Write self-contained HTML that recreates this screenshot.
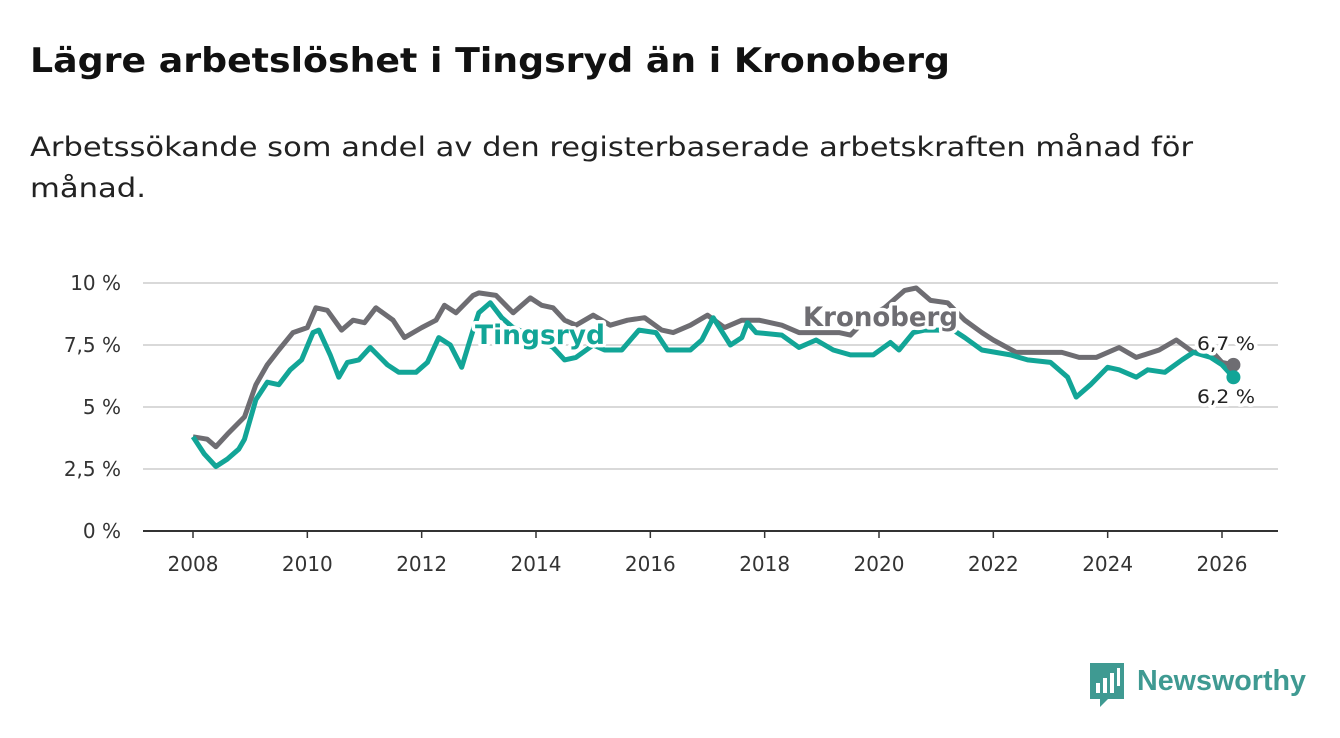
<!DOCTYPE html>
<html><head><meta charset="utf-8"><style>
html,body{margin:0;padding:0;background:#fff;}
body{width:1340px;height:734px;overflow:hidden;font-family:"DejaVu Sans","Liberation Sans",sans-serif;}
</style></head><body>
<svg id="chart" width="1340" height="734" viewBox="0 0 1340 734" xmlns="http://www.w3.org/2000/svg">
<text x="30" y="72" font-size="34" font-weight="bold" fill="#111" textLength="920" lengthAdjust="spacingAndGlyphs">Lägre arbetslöshet i Tingsryd än i Kronoberg</text>
<text x="30" y="156" font-size="27" fill="#222" textLength="1163" lengthAdjust="spacingAndGlyphs">Arbetssökande som andel av den registerbaserade arbetskraften månad för</text>
<text x="30" y="197" font-size="27" fill="#222" textLength="116" lengthAdjust="spacingAndGlyphs">månad.</text>
<g id="grid"></g><g id="xaxis"></g><g id="lines"></g><g id="labels"></g>
<g>
<path d="M1090 663h34v36h-16l-8 8v-8h-10z" fill="#3f9a92"/>
<rect x="1096" y="683" width="4" height="10" fill="#fff"/><rect x="1103" y="678" width="4" height="15" fill="#fff"/><rect x="1110" y="673" width="4" height="20" fill="#fff"/><rect x="1117" y="668" width="3" height="18" fill="#fff"/>
<text x="1137" y="690" font-size="29" font-weight="bold" fill="#3f9a92" textLength="169" lengthAdjust="spacingAndGlyphs" font-family="Liberation Sans, sans-serif">Newsworthy</text>
</g>
</svg>
<script>
const yTicks=[0,2.5,5,7.5,10];
const yTickLabels=["0 %","2,5 %","5 %","7,5 %","10 %"];
const xTicks=[2008,2010,2012,2014,2016,2018,2020,2022,2024,2026];
const kronT=[2008.0,2008.25,2008.4,2008.6,2008.9,2009.1,2009.3,2009.5,2009.75,2010.0,2010.15,2010.35,2010.6,2010.8,2011.0,2011.2,2011.5,2011.7,2012.0,2012.25,2012.4,2012.6,2012.9,2013.0,2013.3,2013.6,2013.9,2014.1,2014.3,2014.5,2014.7,2015.0,2015.3,2015.6,2015.9,2016.2,2016.4,2016.7,2017.0,2017.3,2017.6,2017.9,2018.3,2018.6,2018.9,2019.3,2019.5,2019.8,2020.1,2020.45,2020.65,2020.9,2021.2,2021.5,2021.8,2022.0,2022.4,2022.8,2023.2,2023.5,2023.8,2024.2,2024.5,2024.9,2025.2,2025.5,2025.8,2026.0,2026.2];
const kronV=[3.8,3.7,3.4,3.9,4.6,5.9,6.7,7.3,8.0,8.2,9.0,8.9,8.1,8.5,8.4,9.0,8.5,7.8,8.2,8.5,9.1,8.8,9.5,9.6,9.5,8.8,9.4,9.1,9.0,8.5,8.3,8.7,8.3,8.5,8.6,8.1,8.0,8.3,8.7,8.2,8.5,8.5,8.3,8.0,8.0,8.0,7.9,8.6,9.0,9.7,9.8,9.3,9.2,8.5,8.0,7.7,7.2,7.2,7.2,7.0,7.0,7.4,7.0,7.3,7.7,7.2,7.3,6.8,6.7];
const tingT=[2008.0,2008.2,2008.4,2008.6,2008.8,2008.9,2009.1,2009.3,2009.5,2009.7,2009.9,2010.1,2010.2,2010.4,2010.55,2010.7,2010.9,2011.1,2011.4,2011.6,2011.9,2012.1,2012.3,2012.5,2012.7,2012.9,2013.0,2013.2,2013.4,2013.6,2014.0,2014.3,2014.5,2014.7,2015.0,2015.2,2015.5,2015.8,2016.1,2016.3,2016.7,2016.9,2017.1,2017.4,2017.6,2017.7,2017.85,2018.3,2018.6,2018.9,2019.2,2019.5,2019.9,2020.2,2020.35,2020.6,2020.8,2021.3,2021.5,2021.8,2022.3,2022.6,2023.0,2023.3,2023.45,2023.7,2024.0,2024.2,2024.5,2024.7,2025.0,2025.3,2025.5,2025.8,2026.0,2026.2];
const tingV=[3.8,3.1,2.6,2.9,3.3,3.7,5.3,6.0,5.9,6.5,6.9,8.0,8.1,7.1,6.2,6.8,6.9,7.4,6.7,6.4,6.4,6.8,7.8,7.5,6.6,8.1,8.8,9.2,8.6,8.2,7.8,7.4,6.9,7.0,7.5,7.3,7.3,8.1,8.0,7.3,7.3,7.7,8.6,7.5,7.8,8.4,8.0,7.9,7.4,7.7,7.3,7.1,7.1,7.6,7.3,8.0,8.1,8.1,7.8,7.3,7.1,6.9,6.8,6.2,5.4,5.9,6.6,6.5,6.2,6.5,6.4,6.9,7.2,7.0,6.7,6.2];
const NS="http://www.w3.org/2000/svg";
const X=t=>193+(t-2008)*(1222-193)/18;
const Y=v=>531-v*24.8;
function mk(tag,attrs,parent,txt){const e=document.createElementNS(NS,tag);for(const k in attrs)e.setAttribute(k,attrs[k]);if(txt!==undefined)e.textContent=txt;parent.appendChild(e);return e;}
const grid=document.getElementById('grid'),xa=document.getElementById('xaxis'),ln=document.getElementById('lines'),lb=document.getElementById('labels');
yTicks.forEach((v,i)=>{
 const l=mk('line',{x1:143,x2:1278,y1:Y(v),y2:Y(v),stroke:v===0?'#333':'#d9d9d9','stroke-width':2},grid);
 
 
 const t=mk('text',{x:121,y:Y(v)+7,'font-size':20,fill:'#333','text-anchor':'end'},grid,yTickLabels[i]);
 
 
});
xTicks.forEach(yr=>{
 const l=mk('line',{x1:X(yr),x2:X(yr),y1:531,y2:538,stroke:'#333','stroke-width':1.5},xa);
 
 
 const t=mk('text',{x:X(yr),y:571,'font-size':20,fill:'#333','text-anchor':'middle'},xa,String(yr));
 
 
});
function path(T,V){return T.map((t,i)=>(i?'L':'M')+X(t).toFixed(1)+' '+Y(V[i]).toFixed(1)).join(' ');}
const pk=mk('path',{d:path(kronT,kronV),fill:'none',stroke:'#6e6d72','stroke-width':5,'stroke-linejoin':'round'},ln);


const pt=mk('path',{d:path(tingT,tingV),fill:'none',stroke:'#12a597','stroke-width':5,'stroke-linejoin':'round'},ln);


const ck=mk('circle',{cx:X(kronT[kronT.length-1]),cy:Y(kronV[kronV.length-1]),r:7,fill:'#6e6d72'},ln);


const ct=mk('circle',{cx:X(tingT[tingT.length-1]),cy:Y(tingV[tingV.length-1]),r:7,fill:'#12a597'},ln);


function halo(x,y,size,fill,txt,name,weight,len){
 const t=mk('text',{x:x,y:y,'font-size':size,'font-weight':weight,fill:fill,stroke:'#fff','stroke-width':7,'paint-order':'stroke','stroke-linejoin':'round',textLength:len,lengthAdjust:'spacingAndGlyphs'},lb,txt);
 
 
}
halo(475,344,27,'#12a597','Tingsryd','tingsryd-label','bold',130);
halo(803,326,27,'#6e6d72','Kronoberg','kronoberg-label','bold',155);
halo(1197,350,19,'#222',String(kronV[kronV.length-1]).replace('.',',')+' %','kronoberg-end-value','normal',58);
halo(1197,403,19,'#222',String(tingV[tingV.length-1]).replace('.',',')+' %','tingsryd-end-value','normal',58);
</script>
</body></html>
